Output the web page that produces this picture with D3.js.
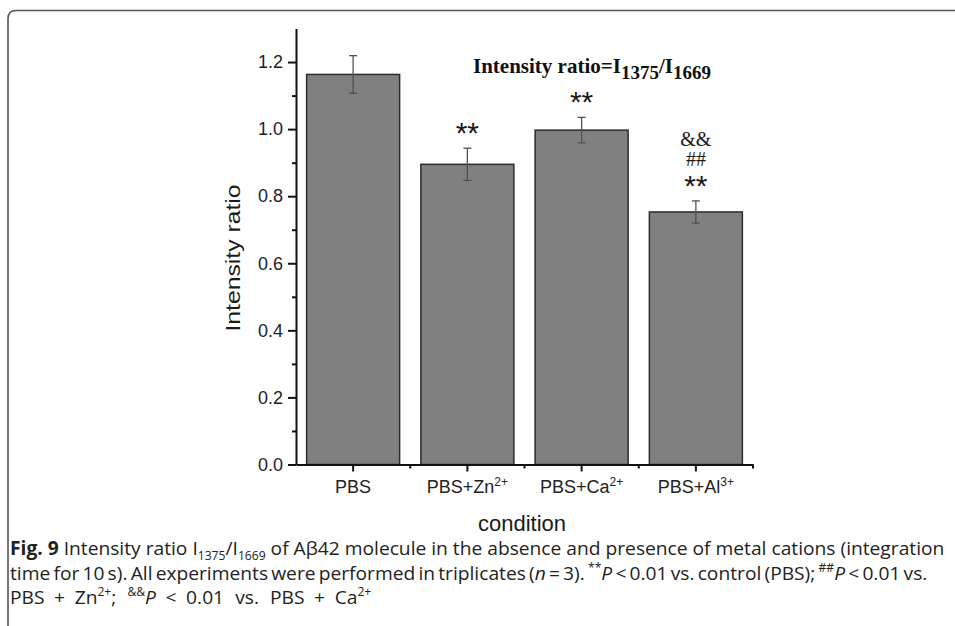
<!DOCTYPE html>
<html>
<head>
<meta charset="utf-8">
<script src="https://cdn.jsdelivr.net/npm/d3@7"></script>
<style>
  body { margin: 0; background: #fff; }
  svg { display: block; }
  .axis path, .axis line { stroke: #111; stroke-width: 2; }
  .axis text { font-family: "Liberation Sans", Arial, sans-serif; font-size: 18px; fill: #222; }
</style>
</head>
<body>
<svg id="chart"></svg>
<script>
// values
const categories = ["PBS", "PBS+Zn", "PBS+Ca", "PBS+Al"]
const ions = ["", "2+", "2+", "3+"]
const means = [1.163, 0.895, 0.997, 0.753]
const errors = [0.056, 0.048, 0.038, 0.033]
const marks = [[], ["**"], ["**"], ["**", "##", "&&"]]
const yTicks = [0, 0.2, 0.4, 0.6, 0.8, 1.0, 1.2]
const yMinor = [0.1, 0.3, 0.5, 0.7, 0.9, 1.1]

const W = 955, H = 626
const plot = { left: 296, right: 753, top: 28.5, bottom: 464.5 }

var svg = d3.select('#chart')
            .attr('width', W)
            .attr('height', H)

// page frame
svg.append('path')
   .attr('d', 'M8,626 V18.5 Q8,10.5 16,10.5 H955')
   .attr('fill', 'none')
   .attr('stroke', '#555')
   .attr('stroke-width', 1.6)

var x = d3.scaleBand()
          .domain(categories)
          .range([plot.left, plot.right])
          .paddingInner(0.186)
          .paddingOuter(0.093)

var y = d3.scaleLinear()
          .domain([0, 1.3])
          .range([plot.bottom, plot.top])

var data = categories.map(function (c, i) {
    return { cat: c, ion: ions[i], mean: means[i], err: errors[i], marks: marks[i] }
})

// bars
svg.selectAll('.bar')
   .data(data)
   .enter().append('rect')
   .attr('class', 'bar')
   .attr('x', function (d) { return x(d.cat) })
   .attr('width', x.bandwidth())
   .attr('y', function (d) { return y(d.mean) })
   .attr('height', function (d) { return y(0) - y(d.mean) })
   .attr('fill', '#808080')
   .attr('stroke', '#2b2b2b')
   .attr('stroke-width', 1.5)

// error bars
var eb = svg.selectAll('.err')
            .data(data)
            .enter().append('g')
            .attr('class', 'err')
            .attr('stroke', '#505050')
            .attr('stroke-width', 1.3)
            .attr('transform', function (d) {
                return 'translate(' + (x(d.cat) + x.bandwidth() / 2) + ',0)' })
eb.append('line')
  .attr('y1', function (d) { return y(d.mean - d.err) })
  .attr('y2', function (d) { return y(d.mean + d.err) })
eb.append('line')
  .attr('x1', -4).attr('x2', 4)
  .attr('y1', function (d) { return y(d.mean + d.err) })
  .attr('y2', function (d) { return y(d.mean + d.err) })
eb.append('line')
  .attr('x1', -4).attr('x2', 4)
  .attr('y1', function (d) { return y(d.mean - d.err) })
  .attr('y2', function (d) { return y(d.mean - d.err) })

// significance marks, stacked above the error bar
data.forEach(function (d) {
    var cx = x(d.cat) + x.bandwidth() / 2
    var top = y(d.mean + d.err)
    d.marks.forEach(function (m, j) {
        var cy = top - 22 - j * 20
        var t = svg.append('text')
                   .attr('x', cx)
                   .attr('text-anchor', 'middle')
                   .attr('fill', '#1a1a1a')
                   .text(m)
        if (m == '**') {
            t.attr('y', cy + 17)
             .style('font-family', '"Liberation Sans", Arial, sans-serif')
             .style('font-size', '30px')
        } else {
            t.attr('y', cy + 7)
             .style('font-family', '"Liberation Serif", "Times New Roman", serif')
             .style('font-size', '20px')
        }
    })
})

// axes
var yAxis = svg.append('g')
               .attr('class', 'axis')
               .attr('transform', 'translate(' + plot.left + ',0)')
               .call(d3.axisLeft(y).tickValues(yTicks).tickSize(8)
                       .tickSizeOuter(0).tickPadding(5).tickFormat(d3.format('.1f')))
svg.append('g')
   .attr('class', 'axis')
   .attr('transform', 'translate(' + plot.left + ',0)')
   .call(d3.axisLeft(y).tickValues(yMinor).tickSize(4).tickSizeOuter(0).tickFormat(''))
   .select('.domain').remove()

var xAxis = svg.append('g')
               .attr('class', 'axis')
               .attr('transform', 'translate(0,' + plot.bottom + ')')
               .call(d3.axisBottom(x).tickSize(7).tickSizeOuter(0).tickPadding(9))

xAxis.selectAll('.tick text')
     .text(function (d) { return d })
     .append('tspan')
     .attr('dy', -7)
     .style('font-size', '12px')
     .text(function (d, i) { return ions[i] })

// minor ticks between categories
var bounds = categories.map(function (c) { return x(c) + x.bandwidth() + x.step() * x.paddingInner() / 2 })
xAxis.selectAll('.minor')
     .data(bounds)
     .enter().append('line')
     .attr('class', 'minor')
     .attr('x1', function (d) { return d }).attr('x2', function (d) { return d })
     .attr('y1', 0).attr('y2', 4)

// axis titles
svg.append('text')
   .attr('transform', 'translate(240,258) rotate(-90)')
   .attr('text-anchor', 'middle')
   .style('font-family', '"Liberation Sans", Arial, sans-serif')
   .style('font-size', '21px')
   .attr('fill', '#1a1a1a')
   .attr('textLength', 147)
   .attr('lengthAdjust', 'spacingAndGlyphs')
   .text('Intensity ratio')

svg.append('text')
   .attr('x', 522)
   .attr('y', 531)
   .attr('text-anchor', 'middle')
   .style('font-family', '"Liberation Sans", Arial, sans-serif')
   .style('font-size', '22px')
   .attr('fill', '#1a1a1a')
   .text('condition')

// in-plot note
var note = svg.append('text')
              .attr('x', 473)
              .attr('y', 73)
              .style('font-family', '"Liberation Serif", "Times New Roman", serif')
              .style('font-weight', 'bold')
              .style('font-size', '21px')
              .attr('fill', '#111')
note.append('tspan').text('Intensity ratio=I')
note.append('tspan').attr('dy', 6).style('font-size', '19px').text('1375')
note.append('tspan').attr('dy', -6).text('/I')
note.append('tspan').attr('dy', 6).style('font-size', '19px').text('1669')

// caption: one squeeze from the first line; math operators get en spaces,
// word spacing takes up what is left
var en = '\u2002'
function op(s) { return en + s + en }
var capLines = [
    { y: 555, width: 935, parts: [
        { t: 'Fig. 9', b: 1 }, { t: '  Intensity ratio I' }, { t: '1375', sub: 1 }, { t: '/I' },
        { t: '1669', sub: 1 }, { t: ' of Aβ42 molecule in the absence and presence of metal cations (integration' }] },
    { y: 580, width: 918, parts: [
        { t: 'time for 10 s). All experiments were performed in triplicates (' }, { t: 'n', i: 1 },
        { t: ' = 3). ' }, { t: '**', sup: 1 }, { t: 'P', i: 1 }, { t: ' < 0.01 vs. control (PBS); ' },
        { t: '##', sup: 1 }, { t: 'P', i: 1 }, { t: ' < 0.01 vs.' }] },
    { y: 604, width: 422, parts: [
        { t: 'PBS' + op('+') + 'Zn' }, { t: '2+', sup: 1 }, { t: '; ' }, { t: '&&', sup: 1 }, { t: 'P', i: 1 },
        { t: op('<') + '0.01 vs. PBS' + op('+') + 'Ca' }, { t: '2+', sup: 1 }] }
]

var sx = null
capLines.forEach(function (line) {
    var g = svg.append('g')
    var t = g.append('text')
             .style('font-family', '"Open Sans", "Noto Sans", sans-serif')
             .style('font-size', '19px')
             .attr('fill', '#222')
    var shift = 0
    var spaces = 0
    line.parts.forEach(function (p) {
        var s = t.append('tspan').text(p.t)
        spaces += p.t.split(' ').length - 1
        var want = p.sub ? 5 : (p.sup ? -8 : 0)
        s.attr('dy', want - shift)
        shift = want
        if (p.sub || p.sup) s.style('font-size', '12px')
        if (p.b) s.style('font-weight', 'bold')
        if (p.i) s.style('font-style', 'italic')
    })
    var len = t.node().getComputedTextLength()
    if (sx == null) {
        sx = line.width / len
    } else if (spaces > 0) {
        var ws = (line.width / sx - len) / spaces
        t.style('word-spacing', Math.max(-3, Math.min(6, ws)) + 'px')
    }
    g.attr('transform', 'translate(10,' + line.y + ') scale(' + sx + ',1)')
})
</script>
</body>
</html>
